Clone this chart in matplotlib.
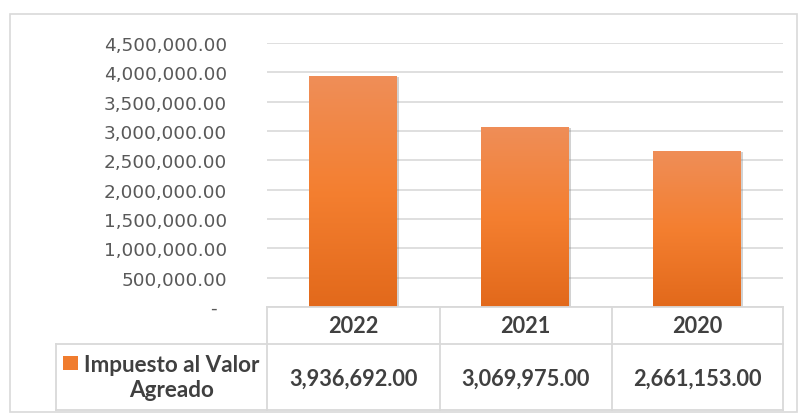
import matplotlib
matplotlib.use("Agg")
import matplotlib.pyplot as plt
import numpy as np
from matplotlib.patches import Rectangle
from matplotlib.lines import Line2D
from matplotlib.colors import LinearSegmentedColormap
import matplotlib.patheffects as pe

years = ["2022", "2021", "2020"]
values = [3936692.00, 3069975.00, 2661153.00]
series_name = "Impuesto al Valor\nAgreado"
yticks = [0, 500000, 1000000, 1500000, 2000000, 2500000, 3000000, 3500000, 4000000, 4500000]

W, H = 806, 414
fig = plt.figure(figsize=(W / 100, H / 100), dpi=100)

tfont = ["Lato", "DejaVu Sans"]

def fx(x):
    return x / W

def fy(y):
    return 1 - y / H

# outer border
fig.add_artist(Rectangle((fx(10), fy(413)), fx(797) - fx(10), fy(15) - fy(413),
                         transform=fig.transFigure, fill=False, edgecolor="#D9D9D9", lw=1.2))

left, right, top, bottom = 267, 783, 44, 308
ax = fig.add_axes([fx(left), fy(bottom), fx(right) - fx(left), fy(top) - fy(bottom)])
ax.set_xlim(-0.5, len(years) - 0.5)
ax.set_ylim(0, 4500000)
for s in ax.spines.values():
    s.set_visible(False)
ax.set_yticks(yticks)
ax.set_yticklabels(["" if v == 0 else f"{v:,.2f}" for v in yticks],
                   fontfamily="DejaVu Sans", fontsize=13.3, color="#595959")
ax.tick_params(axis="y", length=0, pad=28.8)
ax.tick_params(axis="x", length=0, labelbottom=False)
ax.grid(axis="y", color="#D9D9D9", lw=1.2)
ax.set_axisbelow(True)
fig.text(fx(213), fy(309), "-", ha="center", va="center", fontsize=13.3,
         color="#595959", family="DejaVu Sans")

cmap = LinearSegmentedColormap.from_list("g", ["#E2691B", "#F47F30", "#EF8E58"])
grad = np.linspace(0, 1, 256).reshape(-1, 1)
bars = ax.bar(range(len(years)), values, width=0.51, color="#F07C2E", zorder=2,
              path_effects=[pe.SimplePatchShadow(offset=(1.5, -1), shadow_rgbFace="#7F7F7F", alpha=0.35),
                            pe.Normal()])
for b in bars:
    x0, y0, w, h = b.get_x(), b.get_y(), b.get_width(), b.get_height()
    im = ax.imshow(grad, extent=(x0, x0 + w, y0, y0 + h), origin="lower", cmap=cmap,
                   aspect="auto", zorder=3)
    im.set_clip_path(b)
ax.set_xlim(-0.5, len(years) - 0.5)
ax.set_ylim(0, 4500000)

# data table
lc = "#D9D9D9"
def hline(x0, x1, y):
    fig.add_artist(Line2D([fx(x0), fx(x1)], [fy(y), fy(y)], transform=fig.transFigure, color=lc, lw=1.3))
def vline(x, y0, y1):
    fig.add_artist(Line2D([fx(x), fx(x)], [fy(y0), fy(y1)], transform=fig.transFigure, color=lc, lw=1.3))

col_edges = [267, 439.5, 611.5, 783]
row_top, row_mid, row_bot = 308, 345, 411
label_left = 56
hline(267, 783, row_top)
hline(label_left, 783, row_mid)
hline(label_left, 783, row_bot)
for x in col_edges:
    vline(x, row_top, row_bot)
vline(label_left, row_mid, row_bot)

tc = "#404040"
fs = 15.7
for i, (yr, v) in enumerate(zip(years, values)):
    cx = (col_edges[i] + col_edges[i + 1]) / 2
    fig.text(fx(cx), fy(327), yr, ha="center", va="center",
             fontsize=fs, fontweight="bold", color=tc, family=tfont)
    fig.text(fx(cx), fy(379), f"{v:,.2f}", ha="center", va="center",
             fontsize=fs, fontweight="bold", color=tc, family=tfont)

fig.add_artist(Rectangle((fx(63), fy(371)), fx(78) - fx(63), fy(357) - fy(371),
                         transform=fig.transFigure, facecolor="#F07C2E", edgecolor="none"))
fig.text(fx(172), fy(378), series_name, ha="center", va="center", fontsize=16.2,
         fontweight="bold", color=tc, family=tfont, linespacing=1.25)

fig.savefig("out.png", dpi=100)
